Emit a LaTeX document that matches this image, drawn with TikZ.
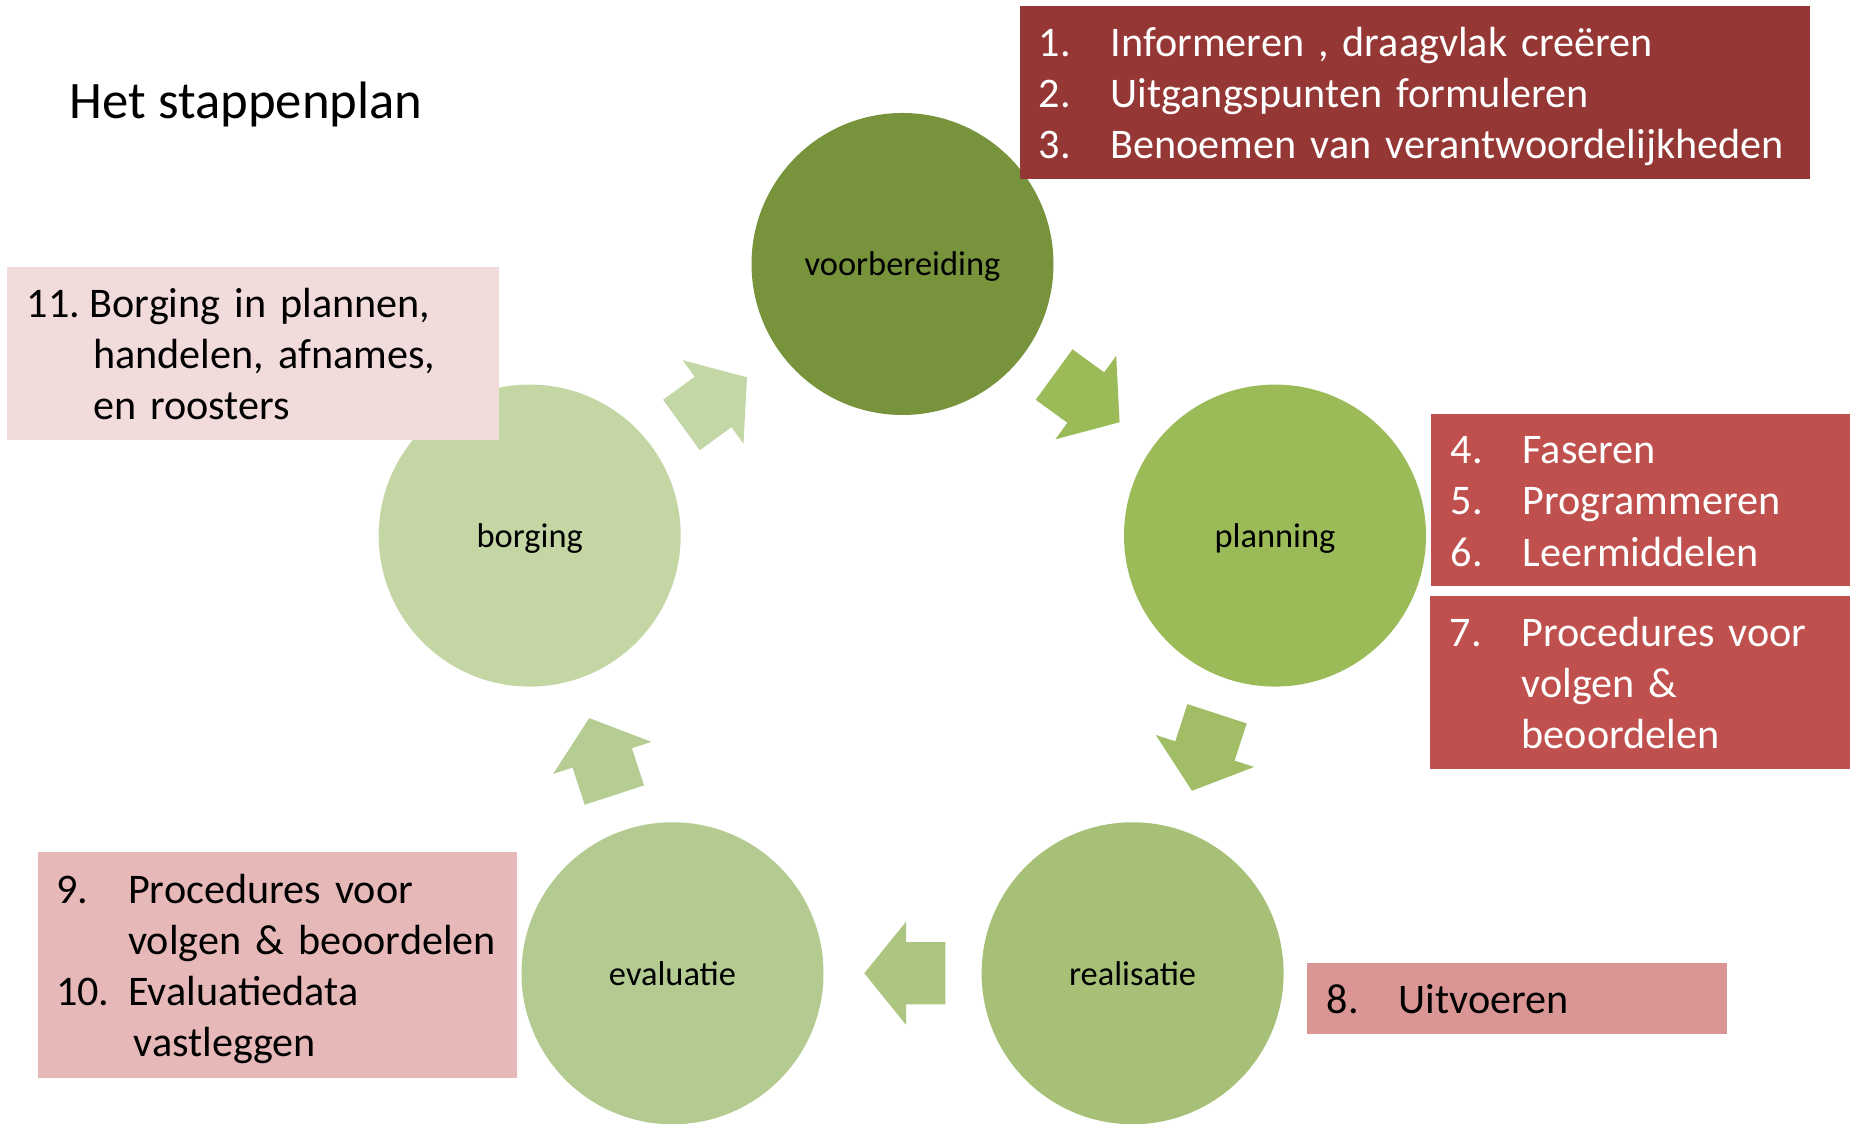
\documentclass[tikz,border=0pt]{standalone}
\usepackage{fontspec}
\setmainfont{Carlito}
\usetikzlibrary{shapes.arrows, positioning}
\definecolor{phaseA}{HTML}{77933C}
\definecolor{phaseB}{HTML}{9BBB59}
\definecolor{phaseC}{HTML}{A6C177}
\definecolor{phaseD}{HTML}{B3CB90}
\definecolor{phaseE}{HTML}{C3D6A4}
\definecolor{flowA}{HTML}{9BBB59}
\definecolor{flowB}{HTML}{A1BE67}
\definecolor{flowC}{HTML}{ACC580}
\definecolor{flowD}{HTML}{B5CD93}
\definecolor{flowE}{HTML}{C3D6A6}
\definecolor{boxdark}{HTML}{953735}
\definecolor{boxmid}{HTML}{C0504D}
\definecolor{boxrose}{HTML}{D99694}
\definecolor{boxpink}{HTML}{E6B9B8}
\definecolor{boxpale}{HTML}{F2DCDB}
% lijst met nummers, iets omlaag in het vak
\newcommand{\steplist}[2][0.72cm]{\raisebox{0pt}[\dimexpr\height+0.95mm\relax][\depth]{%
    \begin{tabular}{@{}p{#1}@{}l@{}}#2\end{tabular}}}

\begin{document}
\begin{tikzpicture}[
    phase/.style={circle, minimum size=3.02cm, inner sep=0pt, text depth=0pt, font=\fontsize{9.8}{12}\selectfont},
    flow/.style={single arrow, inner sep=0pt, inner ysep=0.305cm, minimum height=0.81cm,
        single arrow head extend=0.205cm, single arrow tip angle=102, pos=0.405, sloped, allow upside down},
    taskbox/.style={rectangle, anchor=west, inner xsep=0.19cm, inner ysep=0pt, align=left,
        font=\fontsize{12}{14.6}\selectfont}
]
    \useasboundingbox (0,0) rectangle (18.5,11.24);

    \node[anchor=west, inner sep=0pt, font=\fontsize{15}{18}\selectfont] (title) at (0.69,10.20) {Het stappenplan};

    % de vijf fasen
    \node[phase, fill=phaseA] (vb) at (9.025,8.60) {voorbereiding};
    \node[phase, fill=phaseB] (pl) at (12.75,5.884) {planning};
    \node[phase, fill=phaseC] (re) at (11.326,1.507) {realisatie};
    \node[phase, fill=phaseD] (ev) at (6.725,1.507) {evaluatie};
    \node[phase, fill=phaseE] (bo) at (5.297,5.884) {borging};

    \path (vb) -- (pl) node[flow, fill=flowA] (f1) {};
    \path (pl) -- (re) node[flow, fill=flowB] (f2) {};
    \path (re) -- (ev) node[flow, fill=flowC] (f3) {};
    \path (ev) -- (bo) node[flow, fill=flowD] (f4) {};
    \path (bo) -- (vb) node[flow, fill=flowE] (f5) {};

    % stappen
    \node[taskbox, fill=boxdark, text=white, text width=7.52cm, minimum height=1.73cm] (steps13) at (10.19,10.315)
        {\steplist{1. & Informeren , draagvlak creëren\\
                   2. & Uitgangspunten formuleren\\
                   3. & Benoemen van verantwoordelijkheden}};
    \node[taskbox, fill=boxmid, text=white, inner xsep=0.20cm, text width=4.0cm, minimum height=1.72cm] (steps46) at (14.30,6.24)
        {\steplist{4. & Faseren\\
                   5. & Programmeren\\
                   6. & Leermiddelen}};
    \node[taskbox, fill=boxmid, text=white, inner xsep=0.20cm, text width=4.0cm, minimum height=1.73cm] (step7) at (14.29,4.415)
        {\steplist{7. & Procedures voor\\
                      & volgen \&\\
                      & beoordelen}};
    \node[taskbox, fill=boxrose, inner xsep=0.20cm, text width=3.80cm, minimum height=0.71cm] (step8) at (13.06,1.255)
        {\steplist{8. & Uitvoeren}};
    \node[taskbox, fill=boxpink, inner xsep=0.185cm, text width=4.42cm, minimum height=2.26cm] (steps910) at (0.37,1.59)
        {\steplist{9.  & Procedures voor\\
                       & volgen \& beoordelen\\
                   10. & Evaluatiedata\\
                       & \hspace{0.55mm}vastleggen}};
    \node[taskbox, fill=boxpale, inner xsep=0.20cm, text width=4.52cm, minimum height=1.73cm] (step11) at (0.06,7.705)
        {\steplist[0.63cm]{11. & Borging in plannen,\\
                               & \hspace{0.35mm}handelen, afnames,\\
                               & \hspace{0.35mm}en roosters}};
\end{tikzpicture}
\end{document}
